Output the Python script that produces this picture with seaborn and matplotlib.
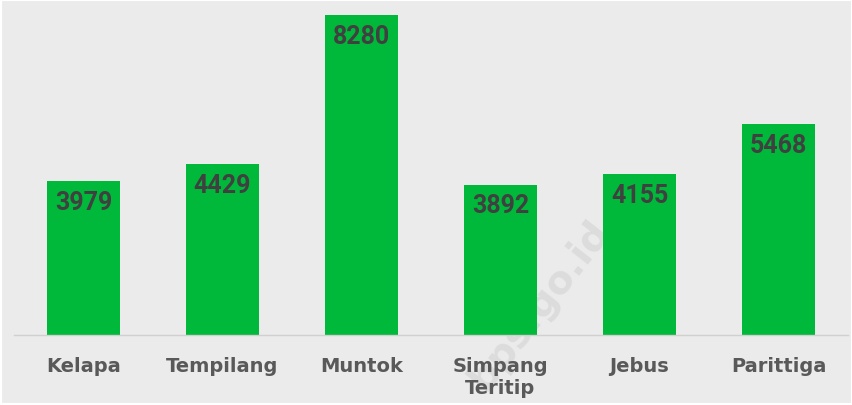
import matplotlib.pyplot as plt
import seaborn as sns
import pandas as pd

sns.set_theme(style='white')
plt.rcParams['font.family'] = ['DejaVu Sans']

kecamatan = ['Kelapa', 'Tempilang', 'Muntok', 'Simpang\nTeritip', 'Jebus', 'Parittiga']
jumlah = [3979, 4429, 8280, 3892, 4155, 5468]

df = pd.DataFrame({'kecamatan': kecamatan, 'jumlah': jumlah})

bg = '#ebebeb'
fig = plt.figure(figsize=(8.53, 4.06), dpi=100, facecolor=bg)
ax = fig.add_axes([14 / 853, 70 / 406, 834 / 853, 333 / 406])
ax.set_facecolor(bg)
ax.patch.set_alpha(0)
ax.set_zorder(2)

# faint watermark, drawn under the axes
fig.text(0.633, 0.25, 'bps.go.id', rotation=52, fontsize=28, fontweight='bold',
         color='#dcdcdc', ha='center', va='center', zorder=1)

sns.barplot(data=df, x='kecamatan', y='jumlah', color='#00B83A',
            saturation=1, width=0.53, linewidth=0, ax=ax)

ax.set_xlim(-0.5, 5.5)
ax.set_ylim(0, 8616)

for i, v in enumerate(jumlah):
    ax.annotate(str(v), (i, v), xytext=(0, -15), textcoords='offset points',
                ha='center', va='center', fontsize=18, fontweight='bold',
                family=['Roboto', 'DejaVu Sans'], color='#404040')

ax.set_xlabel('')
ax.set_ylabel('')
ax.set_yticks([])
ax.tick_params(axis='x', length=0, pad=15)
for lbl in ax.get_xticklabels():
    lbl.set_fontsize(14)
    lbl.set_fontweight('bold')
    lbl.set_color('#595959')
    lbl.set_va('top')

for s in ['top', 'left', 'right']:
    ax.spines[s].set_visible(False)
ax.spines['bottom'].set_color('#d0d0d0')
ax.spines['bottom'].set_linewidth(1)

# thin white frame like the original panel
fig.patches.append(plt.Rectangle((0, 0), 1, 1, transform=fig.transFigure,
                                 fill=False, edgecolor='white', linewidth=3))

plt.savefig('out.png', dpi=100, facecolor=bg)
plt.close()
